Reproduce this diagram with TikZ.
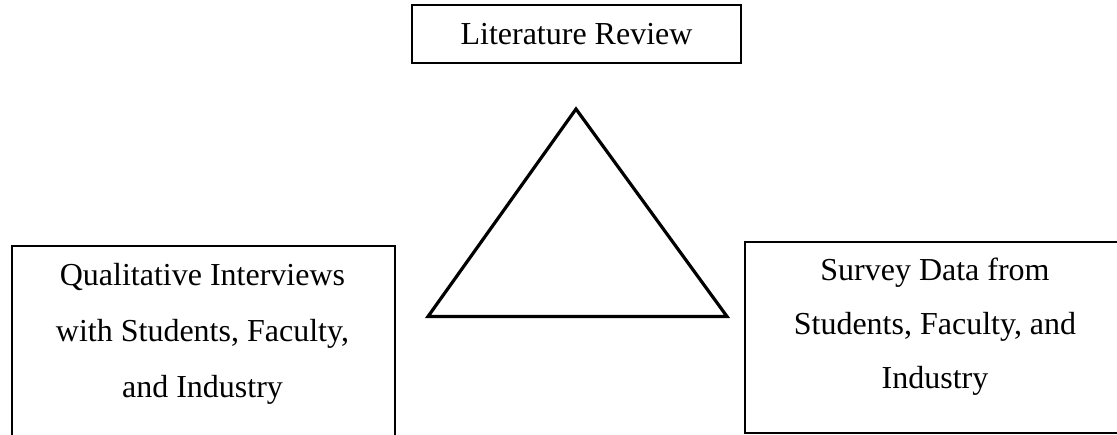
\documentclass[tikz,border=0pt]{standalone}
\usepackage{fontspec}
\setmainfont{Liberation Serif}
\begin{document}
\begin{tikzpicture}[x=0.75pt,y=-0.75pt,
  box/.style={draw, line width=1.5pt, rectangle, inner sep=0pt, anchor=north west},
  label/.style={align=center, inner sep=0pt},
  tri/.style={draw, line width=2.4pt, line join=miter}]
\useasboundingbox (0,0) rectangle (1117,435);
\clip (0,0) rectangle (1117,435);
% top box
\node[box, minimum width=246.75pt, minimum height=43.5pt,
  font={\fontsize{24}{42}\selectfont}] (lit) at (411,4) {Literature Review};
% bottom-left box (continues below the page)
\node[box, minimum width=287.25pt, minimum height=165pt] (qual) at (11,245) {};
\node[label, font={\fontsize{24}{42}\selectfont}] (qualtext) at (202.5,333.5)
  {Qualitative Interviews\\with Students, Faculty,\\and Industry};
% bottom-right box (continues past the right edge)
\node[box, minimum width=286.5pt, minimum height=143.25pt] (survey) at (744,241) {};
\node[label, font={\fontsize{24}{40.5}\selectfont}] (surveytext) at (935,326.5)
  {Survey Data from\\Students, Faculty, and\\Industry};
% triangle
\coordinate (apex) at (576,109);
\coordinate (bl) at (428,316.5);
\coordinate (br) at (727,316.5);
\draw[tri] (apex) -- (bl) -- (br) -- cycle;
\end{tikzpicture}
\end{document}
